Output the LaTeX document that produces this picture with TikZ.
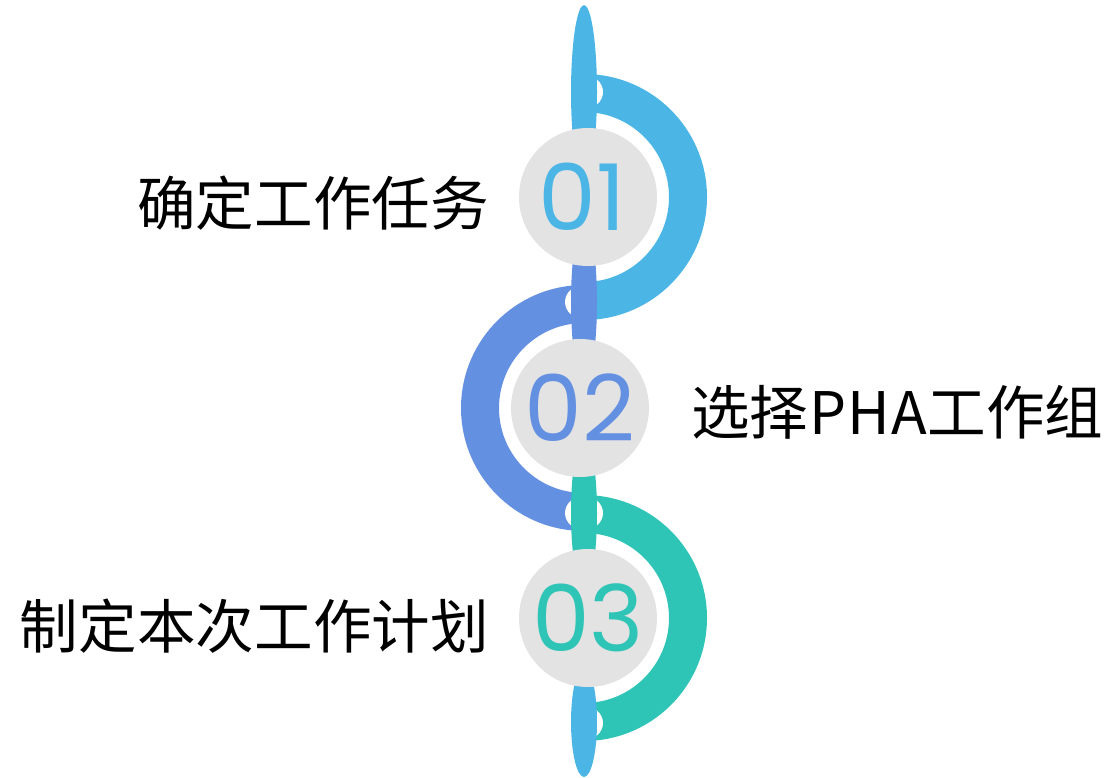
\documentclass[tikz,border=0pt]{standalone}
\usepackage{fontspec}
\newfontfamily\cjk{Noto Sans CJK SC}
\newfontfamily\numfont{Poppins}
\usetikzlibrary{calc}
\definecolor{cA}{HTML}{4BB6E6}
\definecolor{cB}{HTML}{6490E2}
\definecolor{cC}{HTML}{2EC4B6}
\definecolor{gr}{HTML}{E3E3E3}
\tikzset{
  disc/.style={circle, fill=gr, minimum size=138pt, inner sep=0pt},
  num/.style={font=\numfont\fontsize{92}{92}\selectfont, inner sep=0pt},
  lab/.style={font=\cjk\fontsize{58.6}{58.6}\selectfont, inner sep=0pt, text=black},
}
\newcommand{\rhalf}[2]{\fill[#2] ($(#1)+(0,-123)$) arc[start angle=-90,end angle=90,radius=123] -- ++(0,-38) arc[start angle=90,end angle=-90,radius=85] -- cycle;}
\newcommand{\lhalf}[2]{\fill[#2] ($(#1)+(0,-123)$) arc[start angle=-90,end angle=-270,radius=123] -- ++(0,-38) arc[start angle=-270,end angle=-90,radius=85] -- cycle;}
\begin{document}
\begin{tikzpicture}[x=1pt,y=-1pt]
\useasboundingbox (0,0) rectangle (1116,778);
\clip (0,0) rectangle (1116,778);
\coordinate (a1) at (584,197);
\coordinate (a2) at (584,408);
\coordinate (a3) at (584,618);
\coordinate (j1) at (584,92);
\coordinate (j2) at (584,302);
\coordinate (j3) at (584,513);
\coordinate (j4) at (584,723);
% arcs and gaps
\lhalf{a2}{cB}
\fill[white] (j2) ellipse[x radius=19, y radius=17];
\rhalf{a1}{cA}
\fill[white] (j1) ellipse[x radius=19, y radius=17];
\rhalf{a3}{cC}
\fill[white] (j3) ellipse[x radius=19, y radius=17];
\fill[white] (j4) ellipse[x radius=19, y radius=17];
% vertical links
\fill[cA] (584,92) ellipse[x radius=13, y radius=87];
\fill[cB] (584,302) ellipse[x radius=13, y radius=80];
\fill[cC] (584,513) ellipse[x radius=13, y radius=76];
\fill[cA] (584,722) ellipse[x radius=13, y radius=55];
% discs
\node[disc] (d1) at (588,197) {};
\node[disc] (d2) at (580,408) {};
\node[disc] (d3) at (588,618) {};
\node[num, text=cA] (n1) at ($(d1)+(-6,0)$) {01};
\node[num, text=cB] (n2) at (d2) {02};
\node[num, text=cC] (n3) at (d3) {03};
% labels
\node[lab, anchor=east] (t1) at (489,203) {确定工作任务};
\node[lab, anchor=west] (t2) at (691,412) {选择\hspace{1pt}P\hspace{1pt}H\hspace{1pt}A\hspace{1pt}工作组};
\node[lab, anchor=east] (t3) at (489,626) {制定本次工作计划};
\end{tikzpicture}
\end{document}
